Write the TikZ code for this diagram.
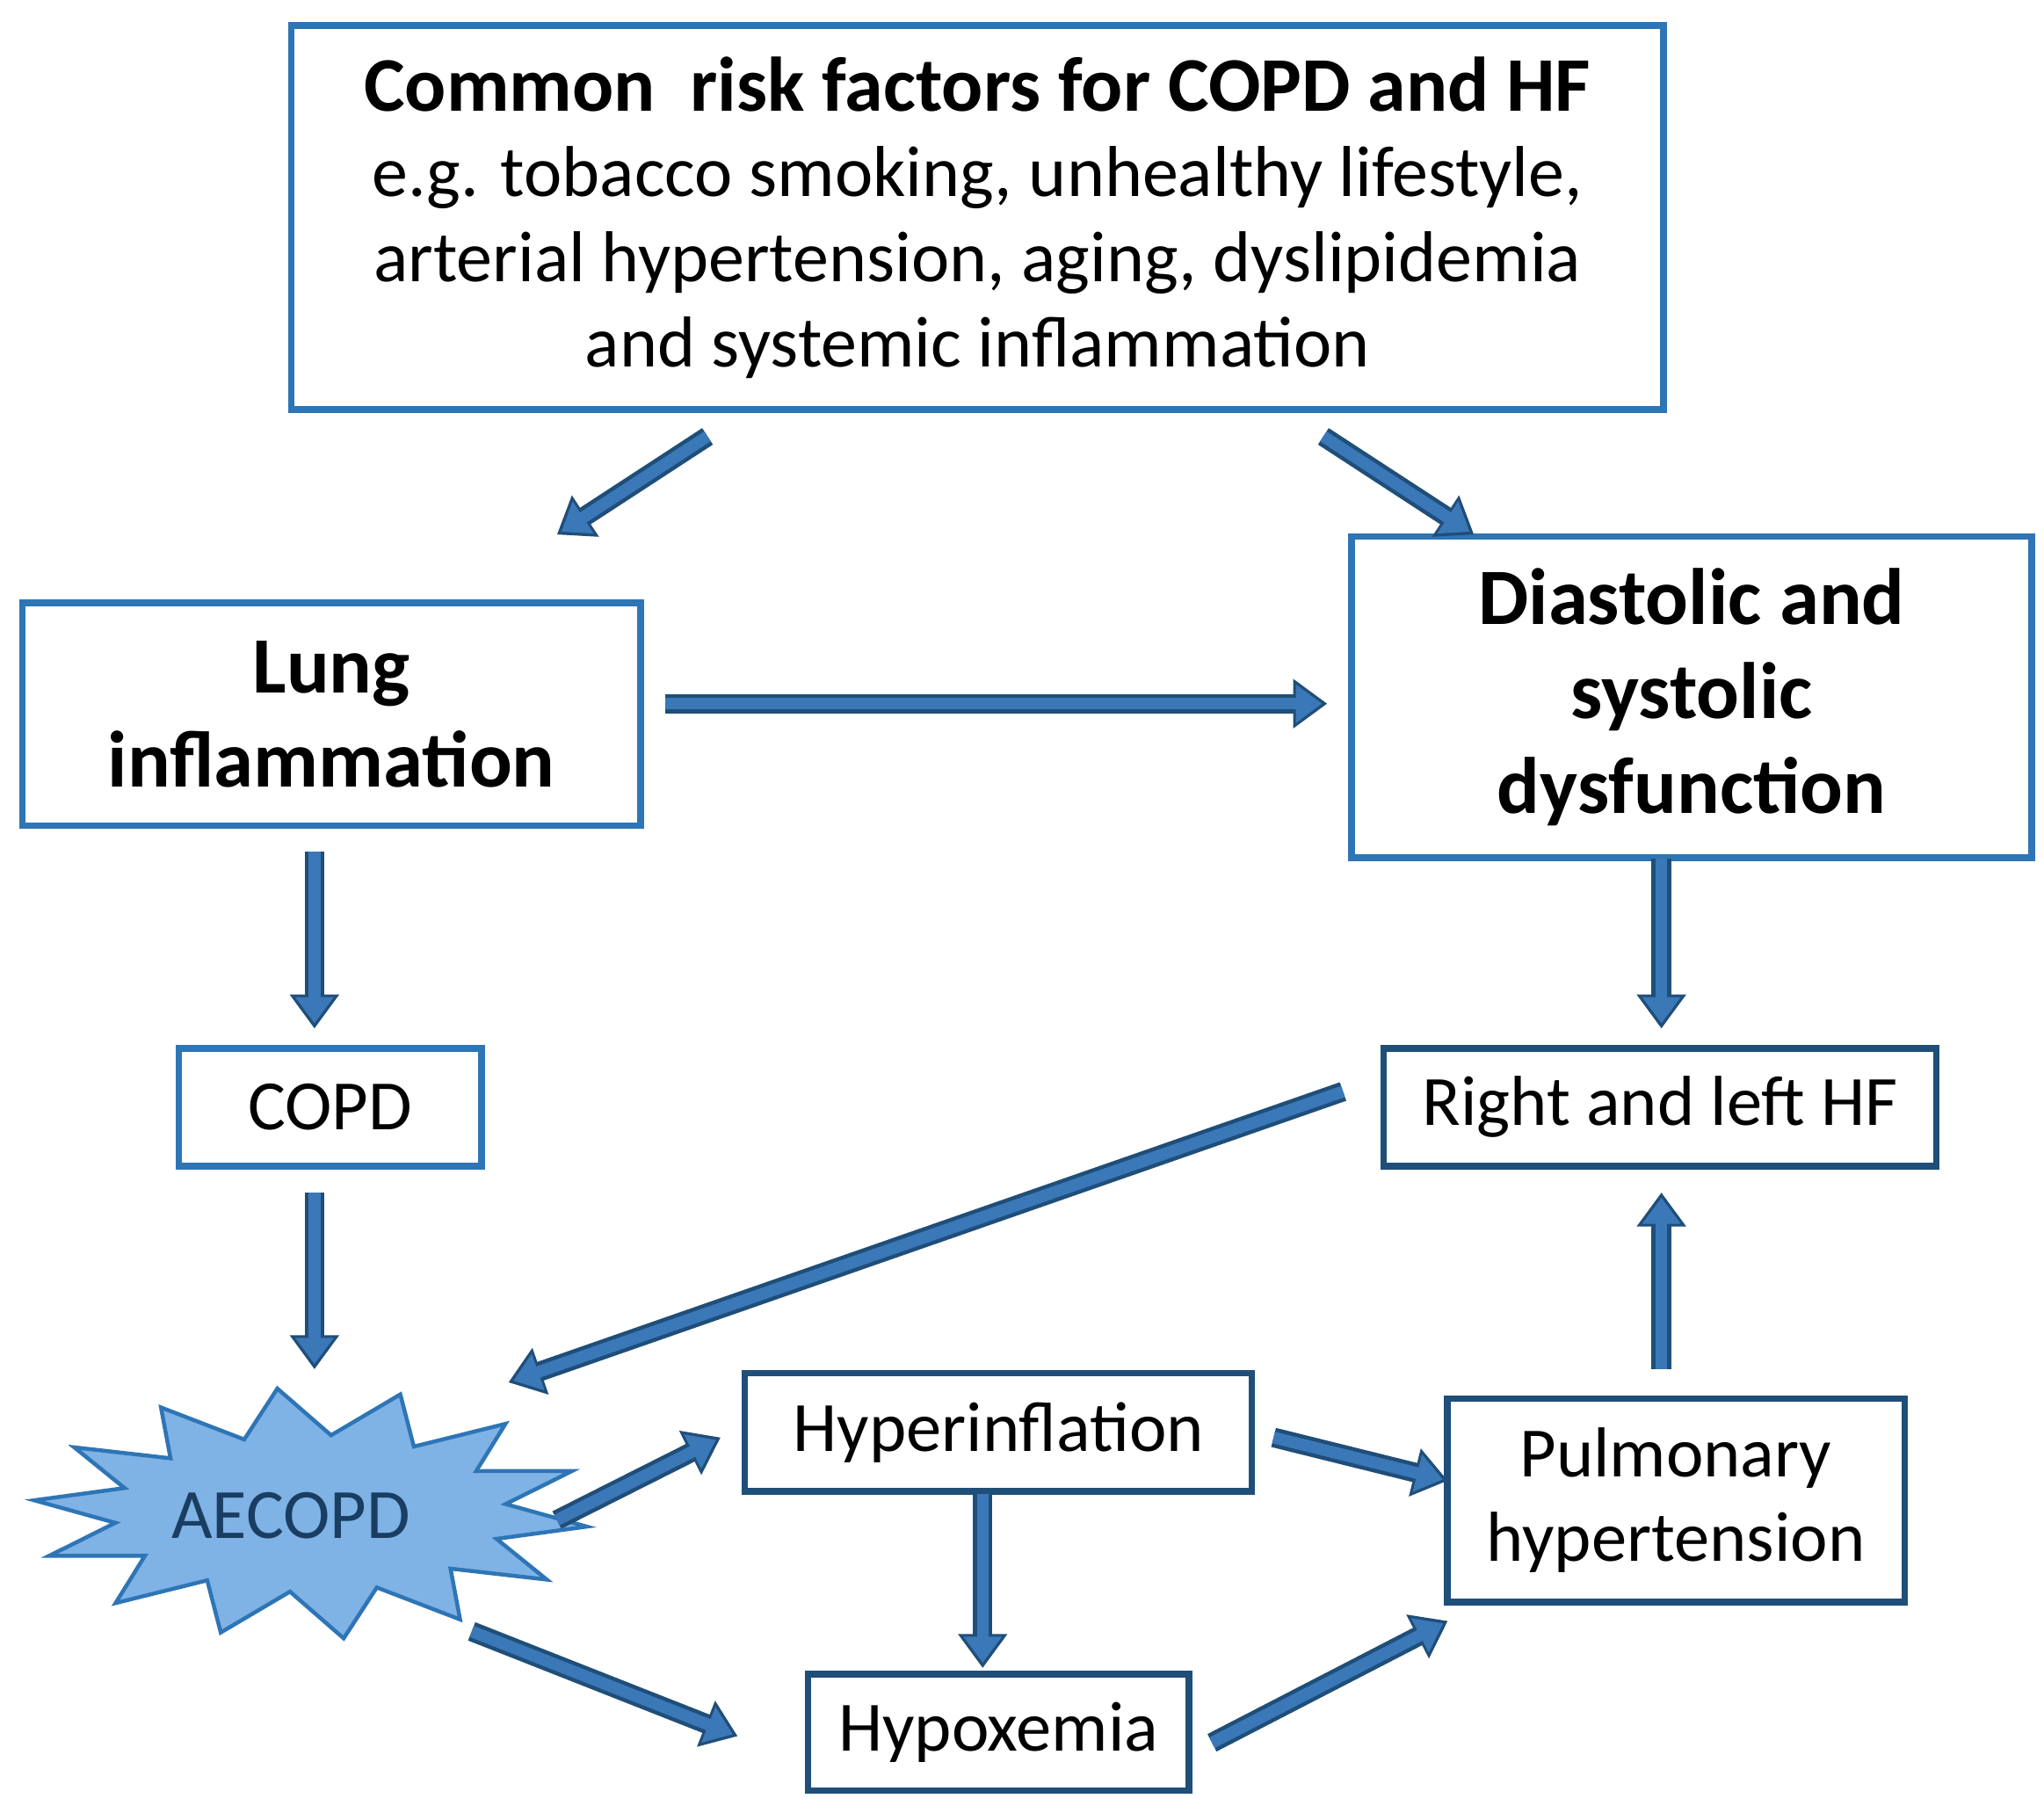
\documentclass[tikz,border=0pt]{standalone}
\usepackage{fontspec}
\setmainfont{Carlito}
\usetikzlibrary{arrows.meta}
\definecolor{bxb}{HTML}{2E75B6}
\definecolor{bxd}{HTML}{1F4E79}
\definecolor{arf}{HTML}{3A78B8}
\definecolor{starf}{HTML}{7FB2E5}
\tikzset{
 box/.style={draw=bxb,line width=5pt,fill=white,align=center,inner sep=0pt},
 dbox/.style={draw=bxd,line width=5pt,fill=white,align=center,inner sep=0pt},
 fat/.style={draw=bxd,line width=15pt,-{Triangle[width=36pt,length=26pt]},
   postaction={draw=arf,line width=9pt,-{Triangle[width=28pt,length=20pt]},shorten >=4pt}},
}
\begin{document}
\begin{tikzpicture}[x=1pt,y=-1pt]
\useasboundingbox (0,0) rectangle (1560,1383);
\fill[white] (0,0) rectangle (1560,1383);
\node[box,minimum width=1047pt,minimum height=293pt,font={\fontsize{55}{65}\selectfont}] (top) at (746,166)
 {{\fontsize{59}{66}\selectfont\bfseries Common\ \ risk factors for COPD and HF}\\
  e.g. tobacco smoking, unhealthy lifestyle,\\
  arterial hypertension, aging, dyslipidemia\\
  and systemic inflammation};
\node[box,minimum width=472pt,minimum height=170pt,font={\fontsize{61}{72}\selectfont\bfseries}] (lung) at (253,545)
 {Lung\\ inflammation};
\node[box,minimum width=519pt,minimum height=245pt,font={\fontsize{61}{72}\selectfont\bfseries}] (dia) at (1291,532)
 {Diastolic and\\ systolic\\ dysfunction};
\tikzset{sm/.style={font={\fontsize{54}{64}\selectfont}}}
\node[box,sm,minimum width=231pt,minimum height=90pt] (copd) at (252,845) {COPD};
\node[dbox,sm,minimum width=422pt,minimum height=90pt] (hf) at (1267,845) {Right and left HF};
\node[dbox,sm,minimum width=387pt,minimum height=90pt] (hyi) at (762,1093) {Hyperinflation};
\node[dbox,sm,minimum width=349pt,minimum height=155pt] (pul) at (1279,1145) {Pulmonary\\ hypertension};
\node[dbox,sm,minimum width=291pt,minimum height=89pt] (hyx) at (762,1322) {Hypoxemia};
\draw[draw=bxb,line width=3pt,fill=starf,line join=miter]
 plot[samples=29,domain=0:28] ({237+ifthenelse(mod(\x,2)==0,212,150)*cos(\x*360/28+6)},{1155+ifthenelse(mod(\x,2)==0,96,60)*sin(\x*360/28+6)}) -- cycle;
\node[sm] (ae) at (222,1157) {\color{bxd!80!black}AECOPD};
\coordinate (a1s) at (540,333); \coordinate (a1e) at (425,408);
\coordinate (a2s) at (1010,333); \coordinate (a2e) at (1125,408);
\coordinate (a3s) at (508,537); \coordinate (a3e) at (1013,537);
\coordinate (a4s) at (240,650); \coordinate (a4e) at (240,785);
\coordinate (a5s) at (1268,655); \coordinate (a5e) at (1268,785);
\coordinate (a6s) at (240,910); \coordinate (a6e) at (240,1045);
\coordinate (a7s) at (1025,833); \coordinate (a7e) at (388,1055);
\coordinate (a8s) at (425,1160); \coordinate (a8e) at (550,1097);
\coordinate (a9s) at (972,1097); \coordinate (a9e) at (1105,1130);
\coordinate (a10s) at (750,1140); \coordinate (a10e) at (750,1273);
\coordinate (a11s) at (360,1245); \coordinate (a11e) at (563,1325);
\coordinate (a12s) at (925,1330); \coordinate (a12e) at (1105,1237);
\coordinate (a13s) at (1268,1045); \coordinate (a13e) at (1268,910);
\foreach \i in {1,...,13} \draw[fat] (a\i s) -- (a\i e);
\end{tikzpicture}
\end{document}
